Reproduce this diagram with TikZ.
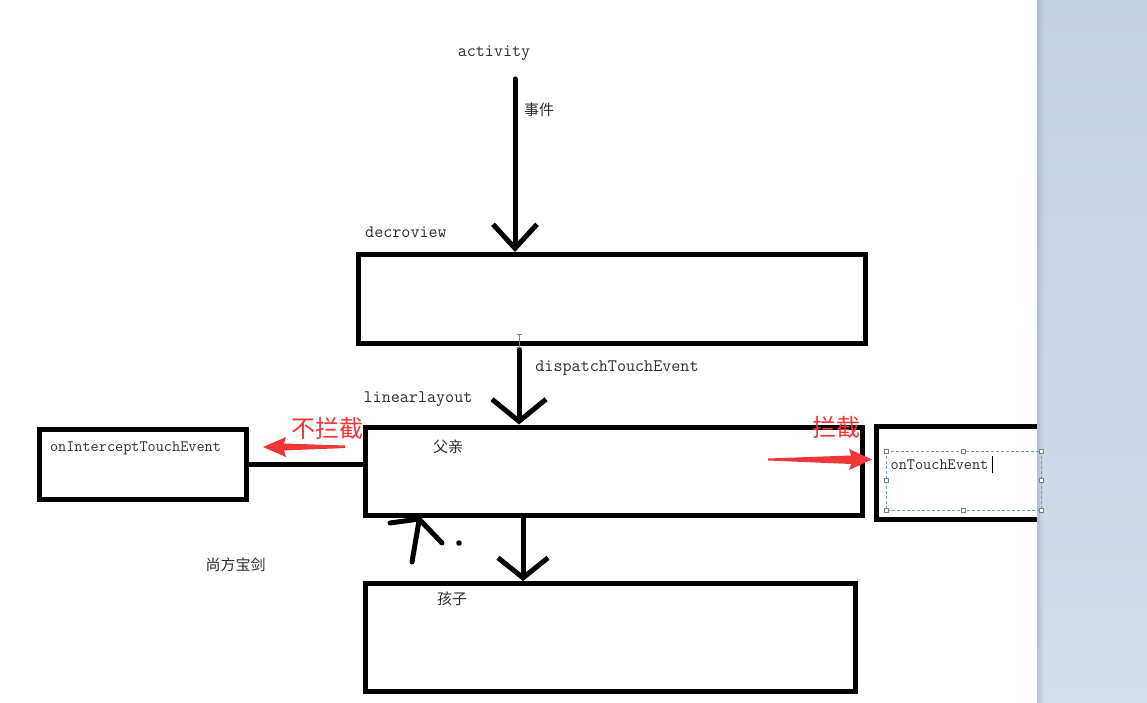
\documentclass[tikz,border=0pt]{standalone}
\usepackage{fontspec}
\newfontfamily\cjk{Noto Sans CJK SC}
\usetikzlibrary{arrows.meta}
\definecolor{inkred}{RGB}{240,55,55}
\definecolor{txt}{RGB}{45,45,45}
\definecolor{paneltop}{RGB}{195,206,222}
\definecolor{panelbot}{RGB}{213,222,235}
\definecolor{paneledge}{RGB}{150,165,188}
\definecolor{selblue}{RGB}{100,160,215}
\begin{document}
\begin{tikzpicture}[x=1pt,y=-1pt,
  box/.style={draw, line width=5pt, inner sep=0pt},
  lbl/.style={inner sep=0pt, text=txt, font=\ttfamily\fontsize{17.6}{20}\selectfont},
  sml/.style={inner sep=0pt, text=txt, font=\ttfamily\fontsize{15.8}{18}\selectfont},
  zh/.style={inner sep=0pt, text=txt, font=\cjk\fontsize{15}{18}\selectfont},
  redzh/.style={inner sep=0pt, text=inkred, font=\cjk\fontsize{24}{27}\selectfont},
  flow/.style={line width=5pt, line cap=round},
  hand/.style={line width=5pt, line cap=round, line join=round},
  handlebox/.style={draw=gray, fill=white, line width=0.6pt}
]
\fill[white] (0,0) rectangle (1147,703);

% boxes
\node[box, minimum width=507pt, minimum height=88.5pt] (dv) at (612,298.75) {};
\node[box, minimum width=497pt, minimum height=88pt] (fq) at (613.5,471) {};
\node[box, minimum width=490pt, minimum height=108pt] (hz) at (610.5,637.5) {};
\node[box, minimum width=206.5pt, minimum height=70.5pt] (ic) at (142.75,464.25) {};
\node[box, minimum width=184pt, minimum height=93pt] (te) at (968,472.5) {};

% labels
\node[lbl] (act) at (494,53) {activity};
\node[zh] (sj) at (539,110) {事件};
\node[lbl] (dvl) at (406,232) {decroview};
\node[lbl] (dte) at (617,368) {dispatchTouchEvent};
\node[lbl] (ll) at (418,399) {linearlayout};
\node[zh] (fql) at (448,447) {父亲};
\node[zh] (hzl) at (452,599) {孩子};
\node[zh] (sf) at (235.5,565) {尚方宝剑};
\node[sml] (ict) at (135.5,448) {onInterceptTouchEvent};
\node[sml] (tet) at (939.5,465) {onTouchEvent};
\node[redzh] (blj) at (327,428) {不拦截};
\node[redzh] (lj) at (836,427) {拦截};

% connectors
\coordinate (s1) at (515,79);
\draw[flow, -{Straight Barb[length=24pt,width=44pt]}] (s1) -- (s1 |- dv.north);
\coordinate (s2) at (519,350);
\draw[flow, -{Straight Barb[length=22pt,width=54pt]}] (s2) -- (s2 |- fq.north);
\coordinate (s3) at (523,515);
\draw[flow, -{Straight Barb[length=20pt,width=50pt]}] (s3 |- fq.south) -- (s3 |- hz.north);
\draw[line width=4.5pt] (ic.east) -- (ic.east -| fq.west);

% red arrows
\fill[inkred] (263,447) -- (286,437) -- (284,443.5) -- (345,445.5) -- (345,448) -- (284,450.5) -- (286,457) -- cycle;
\fill[inkred] (872,459.5) -- (849,449) -- (851,455.5) -- (768,458.5) -- (768,460.5) -- (851,464) -- (849,470) -- cycle;

% hand-drawn arrow
\draw[hand] (412,562) -- (419,521);
\draw[hand] (390,523) -- (419,519) -- (442,543);
\fill (459,543) circle (2.8);

% I-beam cursor
\draw[gray, line width=1pt] (516.5,334) -- (521.5,334) (519,334) -- (519,347) (516.5,347) -- (521.5,347);

% side panel
\shade[top color=paneltop, bottom color=panelbot] (1037,0) rectangle (1147,703);
\fill[paneledge, opacity=0.4] (1037,0) rectangle (1039.5,703);
\fill[paneledge, opacity=0.18] (1039.5,0) rectangle (1043,703);

% selection frame
\draw[selblue, line width=0.9pt, dash pattern=on 3pt off 2pt] (886,451) rectangle (1041,510);
\foreach \px/\py in {886/451, 963.5/451, 1041/451, 886/480.5, 1041/480.5, 886/510, 963.5/510, 1041/510}
  \filldraw[handlebox] (\px-2.2,\py-2.2) rectangle (\px+2.2,\py+2.2);
\draw[line width=0.8pt] (992,456) -- (992,473);
\end{tikzpicture}
\end{document}
